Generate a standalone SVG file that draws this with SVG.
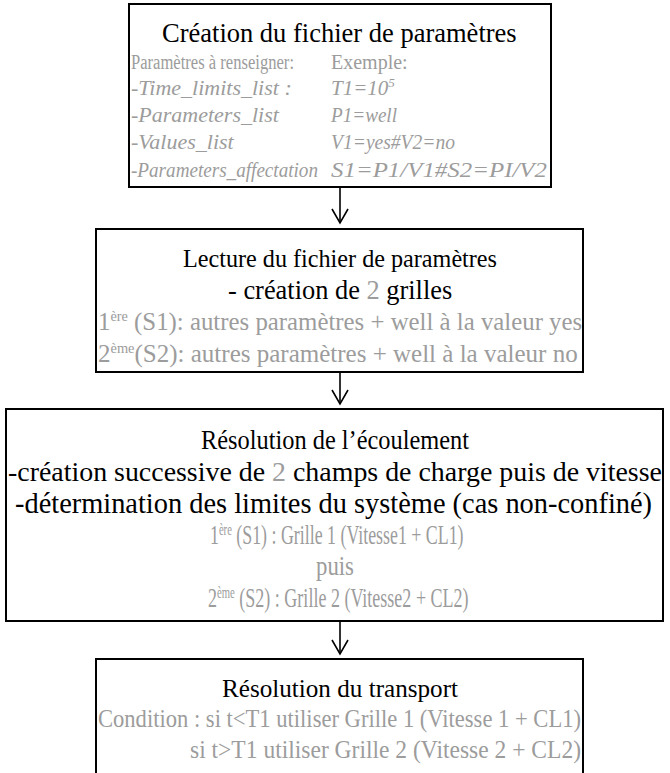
<svg xmlns="http://www.w3.org/2000/svg" width="670" height="773" viewBox="0 0 670 773">
<defs>
<style>
.box{fill:#fff;stroke:#000;stroke-width:2}
.t{font-family:"Liberation Serif","Times New Roman",serif;fill:#000}
.g{fill:#9c9c9c}
.it{font-style:italic}
.r1{font-size:21px}
.r2{font-size:22px}
.s3{font-size:26px}
.s4{font-size:27px}
.conn{stroke:#000;stroke-width:1.6;fill:none}
</style>
</defs>
<rect width="670" height="773" fill="#fff"/>
<g id="connectors">
<line class="conn" x1="340" y1="188" x2="340" y2="223"/>
<path class="conn" d="M332,209 L340,223 L348,209"/>
<line class="conn" x1="340" y1="373" x2="340" y2="404"/>
<path class="conn" d="M332,390 L340,404 L348,390"/>
<line class="conn" x1="340" y1="622" x2="340" y2="654"/>
<path class="conn" d="M332,640 L340,654 L348,640"/>
</g>
<g id="node1">
<rect class="box" x="129" y="4" width="422" height="183"/>
<text class="t" x="162" y="42" font-size="26.5">Création du fichier de paramètres</text>
<text class="t g" x="131" y="69" font-size="20" textLength="163" lengthAdjust="spacingAndGlyphs">Paramètres à renseigner:</text>
<text class="t g" x="331" y="69" font-size="20">Exemple:</text>
<text class="t r2 g it" x="131" y="95">-Time_limits_list :</text>
<text class="t r1 g it" x="331" y="95">T1=10<tspan dy="-8" font-size="13">5</tspan></text>
<text class="t r2 g it" x="131" y="122">-Parameters_list</text>
<text class="t r1 g it" x="331" y="122" textLength="66" lengthAdjust="spacingAndGlyphs">P1=well</text>
<text class="t r2 g it" x="131" y="149">-Values_list</text>
<text class="t r1 g it" x="331" y="149" textLength="124" lengthAdjust="spacingAndGlyphs">V1=yes#V2=no</text>
<text class="t r1 g it" x="131" y="177" textLength="187" lengthAdjust="spacingAndGlyphs">-Parameters_affectation</text>
<text class="t r1 g it" x="331" y="177" textLength="216" lengthAdjust="spacingAndGlyphs">S1=P1/V1#S2=PI/V2</text>
</g>
<g id="node2">
<rect class="box" x="96" y="229" width="487" height="143"/>
<text class="t s3" x="183" y="267" textLength="314" lengthAdjust="spacingAndGlyphs">Lecture du fichier de paramètres</text>
<text class="t" x="228" y="299" font-size="26.4">- création de <tspan class="g">2</tspan> grilles</text>
<text class="t s3 g" transform="translate(98,330) scale(0.955,1)">1<tspan dy="-9" font-size="15">ère</tspan><tspan dy="9"> (S1): autres paramètres + well à la valeur yes</tspan></text>
<text class="t s3 g" transform="translate(98,362) scale(0.962,1)">2<tspan dy="-9" font-size="15">ème</tspan><tspan dy="9">(S2): autres paramètres + well à la valeur no</tspan></text>
</g>
<g id="node3">
<rect class="box" x="6" y="409" width="657" height="212"/>
<text class="t s4" x="201" y="449" textLength="268" lengthAdjust="spacingAndGlyphs">Résolution de l’écoulement</text>
<text class="t" x="8" y="481" font-size="27.9">-création successive de <tspan class="g">2</tspan> champs de charge puis de vitesse</text>
<text class="t" x="15" y="513" font-size="28.4">-détermination des limites du système (cas non-confiné)</text>
<text class="t s4 g" transform="translate(210,544) scale(0.662,1)">1<tspan dy="-9" font-size="16">ère</tspan><tspan dy="9"> (S1) : Grille 1 (Vitesse1 + CL1)</tspan></text>
<text class="t s4 g" x="316" y="575" textLength="38" lengthAdjust="spacingAndGlyphs">puis</text>
<text class="t s4 g" transform="translate(208,607) scale(0.668,1)">2<tspan dy="-9" font-size="16">ème</tspan><tspan dy="9"> (S2) : Grille 2 (Vitesse2 + CL2)</tspan></text>
</g>
<g id="node4">
<path class="box" d="M96,780 L96,659 L583,659 L583,780"/>
<text class="t s3" x="222" y="697" textLength="236" lengthAdjust="spacingAndGlyphs">Résolution du transport</text>
<text class="t s3 g" x="98" y="727" textLength="483" lengthAdjust="spacingAndGlyphs">Condition : si t&lt;T1 utiliser Grille 1 (Vitesse 1 + CL1)</text>
<text class="t s3 g" x="190" y="758" textLength="391" lengthAdjust="spacingAndGlyphs">si t&gt;T1 utiliser Grille 2 (Vitesse 2 + CL2)</text>
</g>
</svg>
